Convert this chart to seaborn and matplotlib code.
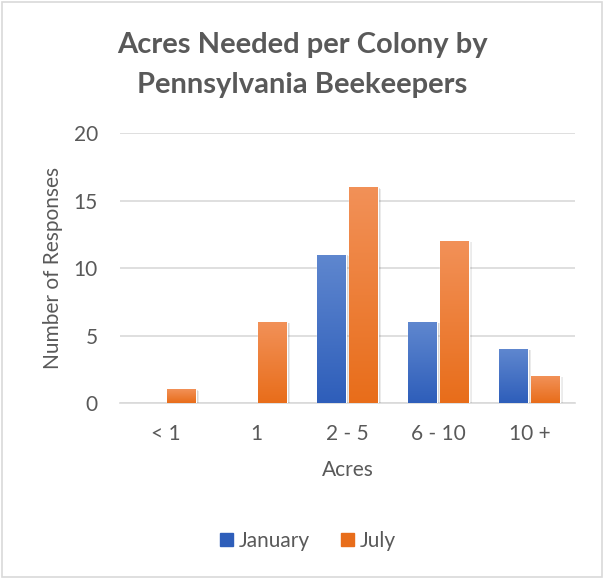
import numpy as np
import pandas as pd
import seaborn as sns
import matplotlib
matplotlib.use("Agg")
from matplotlib import pyplot as plt
from matplotlib.colors import LinearSegmentedColormap
from matplotlib.patches import Rectangle
import matplotlib.patheffects as pe

categories = ['< 1', '1', '2 - 5', '6 - 10', '10 +']
january = [0, 0, 11, 6, 4]
july = [1, 6, 16, 12, 2]
series = ['January', 'July']

# top / bottom shades of the Excel gradient fill
grad = {
    'January': ('#5f87cf', '#2e5eba'),
    'July': ('#f29158', '#e86d1a'),
}

df = pd.DataFrame({
    'Acres': categories * 2,
    'Responses': january + july,
    'Month': ['January'] * len(categories) + ['July'] * len(categories),
})

sns.set_style('white')
plt.rcParams['font.family'] = ['Lato', 'DejaVu Sans']
text_col = '#595959'
fs = 15

fig = plt.figure(figsize=(6.04, 5.79), dpi=100)
ax = fig.add_axes([0.199, 0.304, 0.753, 0.466])

palette = {m: grad[m][1] for m in series}
sns.barplot(data=df, x='Acres', y='Responses', hue='Month', order=categories,
            hue_order=series, palette=palette, width=0.7, gap=0.1,
            legend=False, ax=ax, zorder=3)

ax.set_ylim(0, 20)
ax.set_xlim(-0.5, len(categories) - 0.5)

# gradient fill clipped to each seaborn bar, with a soft shadow
for cont, month in zip(ax.containers, series):
    cmap = LinearSegmentedColormap.from_list(month, [grad[month][0], grad[month][1]])
    for bar in cont:
        h = bar.get_height()
        if h <= 0:
            bar.set_visible(False)
            continue
        x0 = bar.get_x()
        w = bar.get_width()
        bar.set_path_effects([
            pe.SimplePatchShadow(offset=(2.2, -1), alpha=0.08, shadow_rgbFace='#000000'),
            pe.SimplePatchShadow(offset=(1.2, -0.6), alpha=0.12, shadow_rgbFace='#000000'),
            pe.Normal()])
        img = ax.imshow(np.linspace(0, 1, 256).reshape(-1, 1), cmap=cmap, aspect='auto',
                        extent=(x0, x0 + w, 0, h), origin='upper', zorder=4)
        img.set_clip_path(bar)

ax.set_yticks([0, 5, 10, 15, 20])
ax.yaxis.grid(True, color='#d9d9d9', linewidth=1.2, zorder=0)
for s in ['top', 'right', 'left']:
    ax.spines[s].set_visible(False)
ax.spines['bottom'].set_color('#d9d9d9')
ax.spines['bottom'].set_linewidth(1.2)
ax.tick_params(axis='both', length=0, labelsize=fs, labelcolor=text_col)
ax.tick_params(axis='x', pad=15)
ax.tick_params(axis='y', pad=16)
ax.set_xlabel('Acres', fontsize=fs, color=text_col, labelpad=12)
ax.set_ylabel('Number of Responses', fontsize=fs, color=text_col, labelpad=8)

fig.text(0.5, 0.922, 'Acres Needed per Colony by', ha='center', va='center',
         fontsize=21, fontweight='bold', color=text_col)
fig.text(0.5, 0.853, 'Pennsylvania Beekeepers', ha='center', va='center',
         fontsize=21, fontweight='bold', color=text_col)

handles = [Rectangle((0, 0), 1, 1, color=grad[m][1]) for m in series]
fig.legend(handles, series, loc='center', bbox_to_anchor=(0.51, 0.066), ncol=2,
           frameon=False, fontsize=fs, labelcolor=text_col, handlelength=0.6,
           handleheight=0.6, handletextpad=0.3, columnspacing=1.5)

fig.patches.append(Rectangle((0.003, 0.003), 0.994, 0.994, transform=fig.transFigure,
                             fill=False, edgecolor='#d9d9d9', linewidth=1.2))

fig.savefig('out.png', dpi=100)
